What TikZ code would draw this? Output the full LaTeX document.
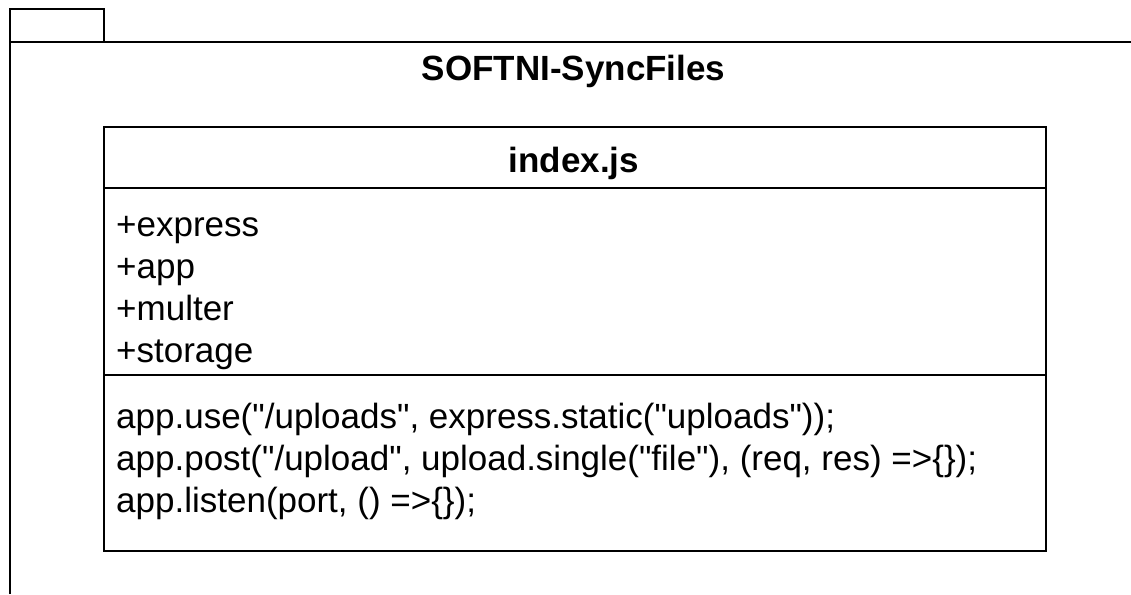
\documentclass[tikz,border=0pt]{standalone}
\usepackage{fontspec}
\setmainfont{Liberation Sans}[Ligatures=TeXOff]
\begin{document}
\begin{tikzpicture}[x=1pt,y=-1pt,
  frame/.style={draw=black,line width=2pt,line join=miter},
  umltext/.style={font=\fontsize{35pt}{42pt}\selectfont,inner sep=0pt,anchor=base west},
  umltitle/.style={font=\fontsize{35pt}{42pt}\selectfont\bfseries,inner sep=0pt,anchor=base}]
\useasboundingbox (0,0) rectangle (1131,594);
% package tab and open package frame
\draw[frame] (10,42) rectangle (104,9.5);
\draw[frame] (10,594) -- (10,42) -- (1131,42);
\node[umltitle] (pkgname) at (573.5,80.5) {SOFTNI-SyncFiles};
% class box with its compartments
\draw[frame] (104,127) rectangle (1046,551);
\draw[frame] (104,188) -- (1046,188);
\draw[frame] (104,375) -- (1046,375);
\node[umltitle] (classname) at (574,172) {index.js};
% attributes
\node[umltext] (a1) at (116,236) {+express};
\node[umltext] (a2) at (116,278) {+app};
\node[umltext] (a3) at (116,320) {+multer};
\node[umltext] (a4) at (116,362) {+storage};
% operations
\node[umltext] (m1) at (116,428) {app.use("/uploads", express.static("uploads"));};
\node[umltext] (m2) at (116,470) {app.post("/upload", upload.single("file"), (req, res) =>\{\});};
\node[umltext] (m3) at (116,512) {app.listen(port, () =>\{\});};
\end{tikzpicture}
\end{document}
